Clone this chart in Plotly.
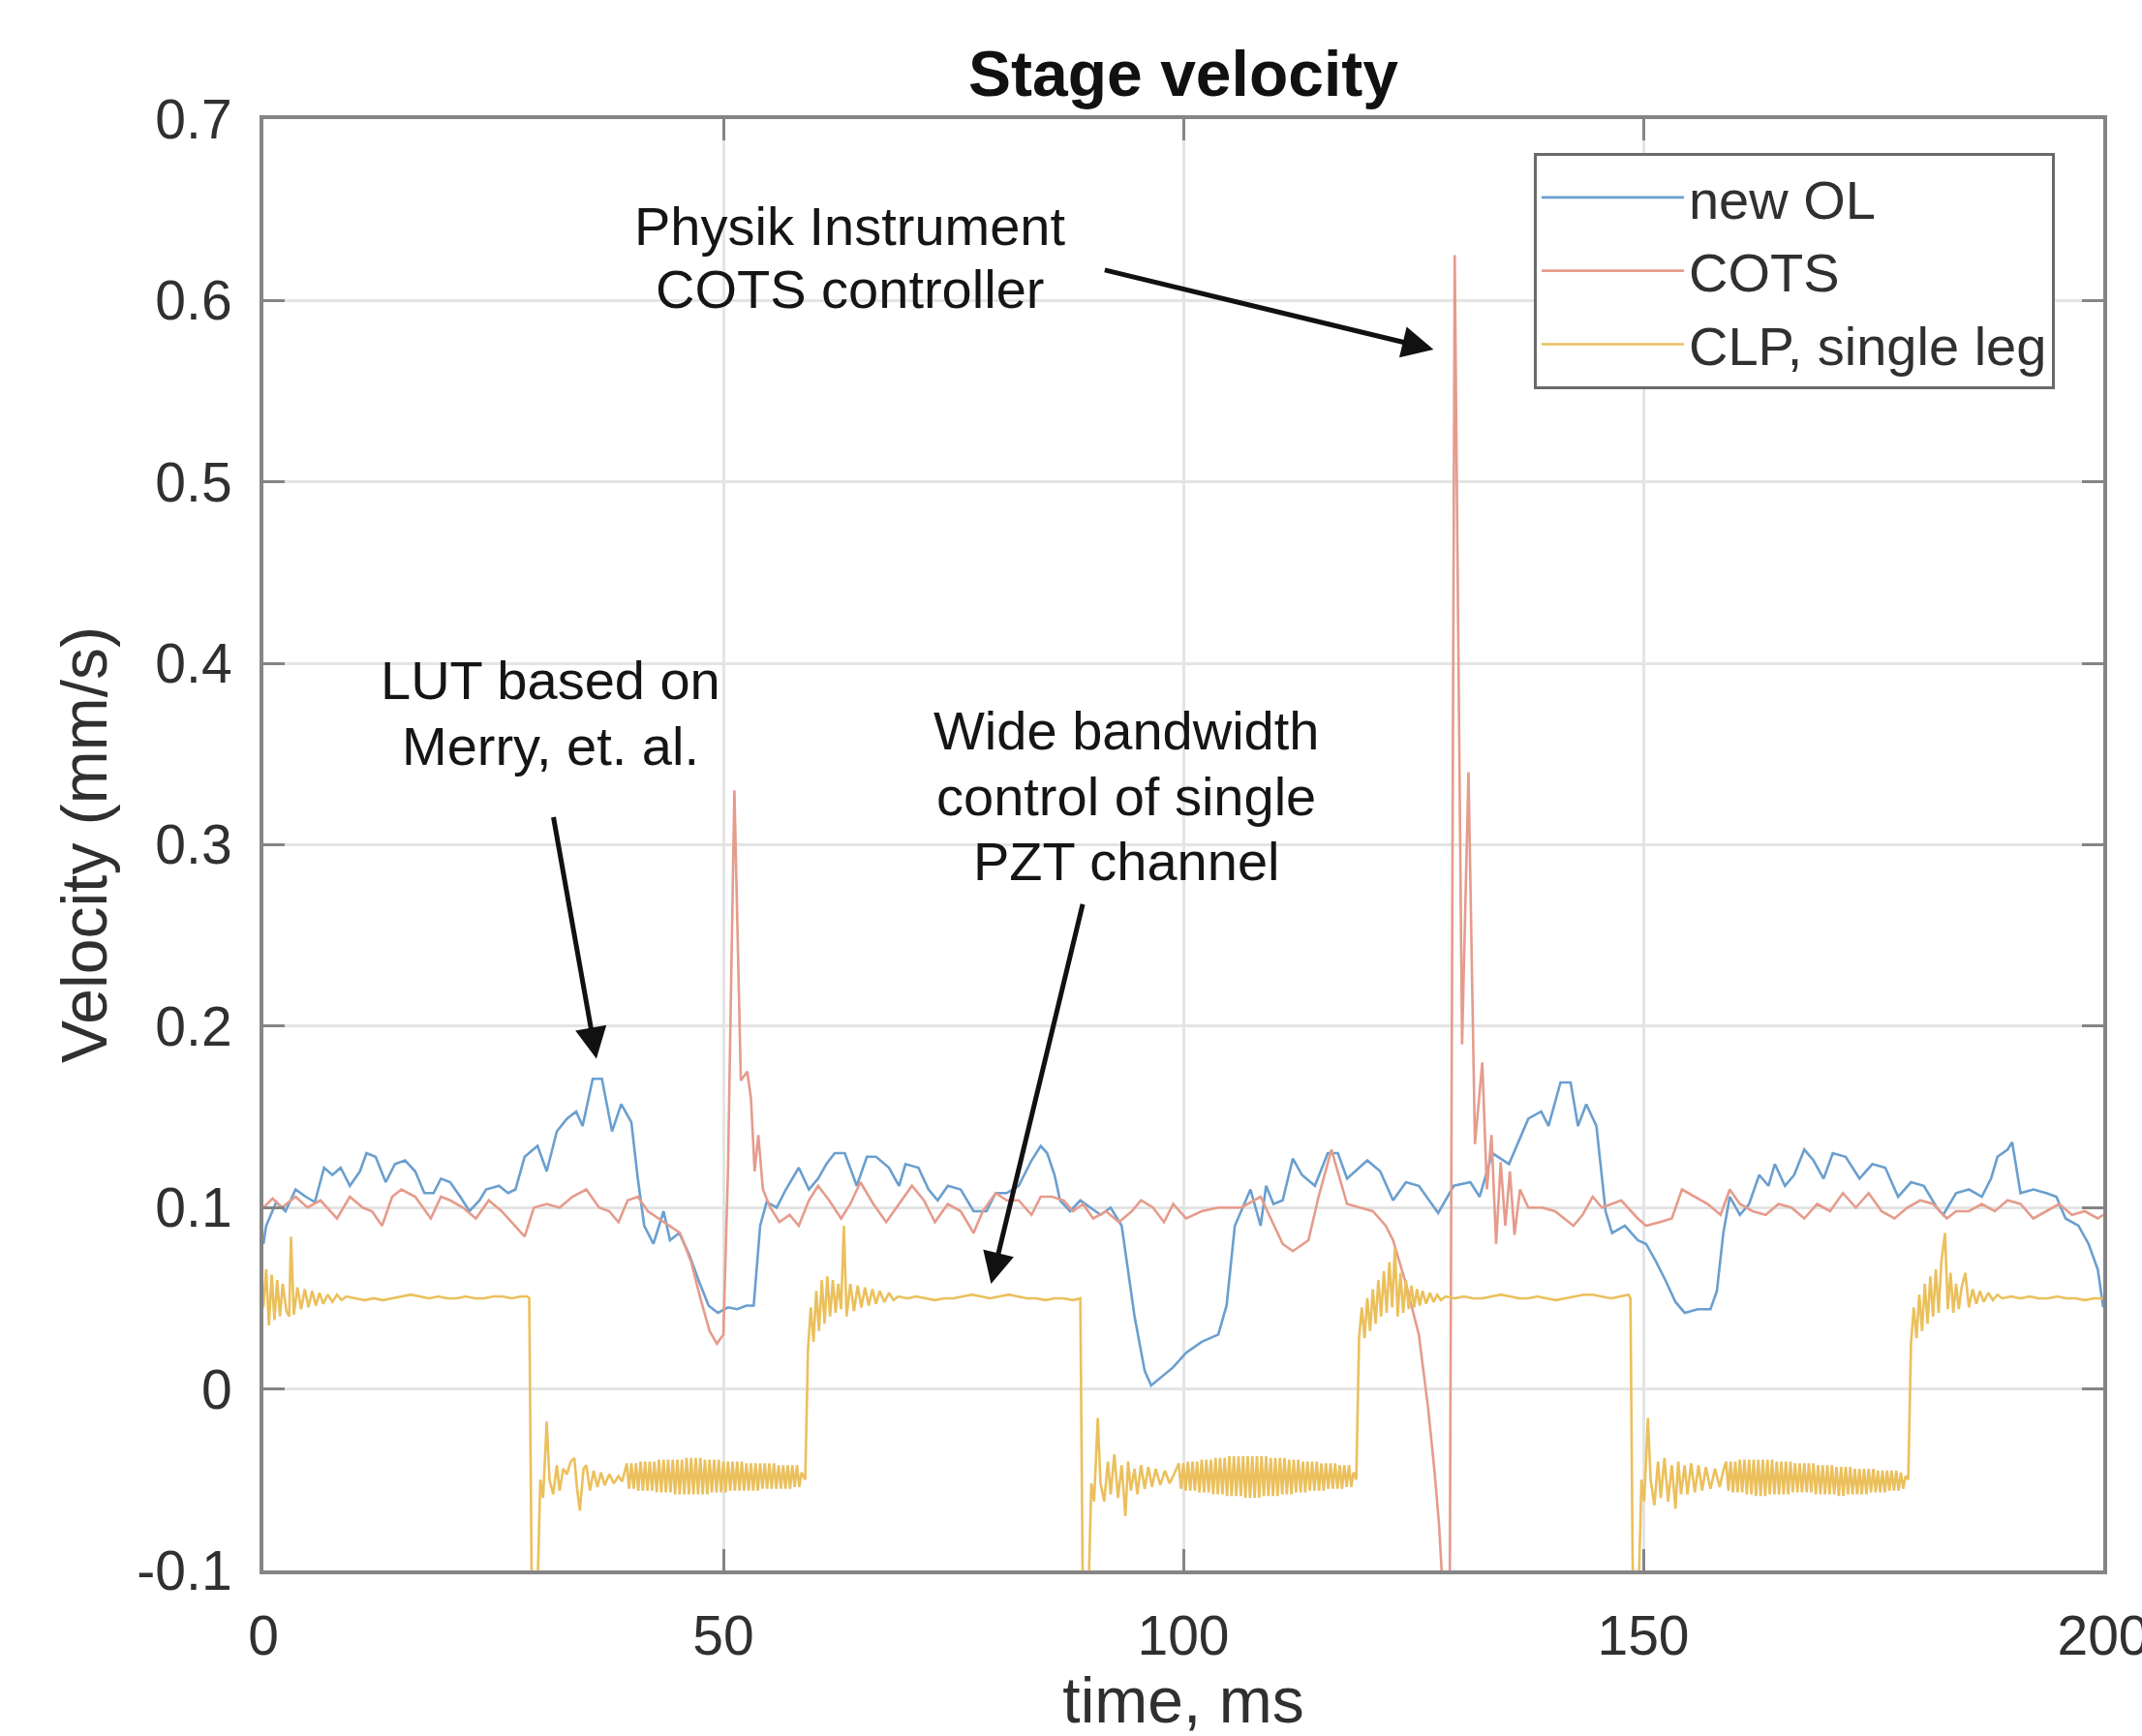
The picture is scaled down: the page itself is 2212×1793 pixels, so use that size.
import plotly.graph_objects as go

# ---------------- data ----------------
# new OL (blue)
OL_T = [0, 0.3, 1.4, 2.4, 3.5, 4.6, 5.6, 6.6, 7.5, 8.4,
        9.4, 10.5, 11.2, 12.2, 13.3, 14.3, 15.4, 16.5, 17.5, 18.5,
        19.3, 20.3, 21.4, 22.4, 23.5, 24.2, 25.6, 26.6, 27.4, 28.4,
        29.8, 30.8, 31.9, 33.0, 34.0, 34.7, 35.8, 36.8, 37.9, 38.9,
        40.0, 40.7, 41.4, 42.4, 43.5, 44.2, 45.2, 46.3, 47.3, 48.4,
        49.4, 50.5, 51.5, 52.5, 53.3, 54.0, 54.7, 55.8, 56.8, 58.2,
        59.3, 60.3, 61.2, 62.1, 63.2, 64.5, 65.6, 66.6, 68.0, 69.1,
        69.8, 71.2, 72.3, 73.3, 74.4, 75.8, 77.2, 78.6, 79.6, 80.8,
        82.1, 83.5, 84.5, 85.2, 86.0, 86.6, 87.7, 88.8, 89.9, 91.0,
        92.1, 93.3, 94.7, 95.8, 96.5, 97.5, 98.9, 100.3, 102.0, 103.8,
        104.7, 105.6, 106.3, 107.3, 108.4, 109.0, 109.8, 110.8, 111.9, 112.9,
        114.3, 115.7, 116.8, 117.8, 120.0, 121.4, 122.8, 124.2, 125.6, 127.7,
        129.4, 131.2, 132.2, 133.6, 135.4, 137.5, 138.9, 139.7, 141.0, 142.1,
        142.9, 143.8, 144.9, 145.9, 146.6, 148.0, 149.4, 150.3, 151.4, 152.4,
        153.5, 154.5, 155.9, 157.3, 158.0, 158.7, 159.4, 160.5, 161.5, 162.6,
        163.6, 164.3, 165.4, 166.4, 167.5, 168.5, 169.6, 170.6, 172.0, 173.5,
        174.9, 176.3, 177.7, 179.1, 180.5, 181.9, 182.6, 184.0, 185.4, 186.8,
        187.8, 188.5, 189.6, 190.1, 191.0, 192.4, 193.8, 194.9, 195.9, 197.3,
        198.4, 199.4, 200.0]
OL_V = [0.080, 0.090, 0.103, 0.098, 0.110, 0.106, 0.103, 0.122, 0.118, 0.122,
        0.112, 0.120, 0.130, 0.128, 0.114, 0.124, 0.126, 0.120, 0.108, 0.108,
        0.116, 0.114, 0.106, 0.098, 0.104, 0.110, 0.112, 0.108, 0.110, 0.128,
        0.134, 0.120, 0.142, 0.149, 0.153, 0.145, 0.171, 0.171, 0.142, 0.157,
        0.147, 0.116, 0.090, 0.080, 0.098, 0.082, 0.086, 0.074, 0.060, 0.046,
        0.042, 0.045, 0.044, 0.046, 0.046, 0.090, 0.103, 0.100, 0.110, 0.122,
        0.110, 0.116, 0.124, 0.130, 0.130, 0.112, 0.128, 0.128, 0.122, 0.112,
        0.124, 0.122, 0.110, 0.104, 0.112, 0.110, 0.098, 0.098, 0.108, 0.108,
        0.112, 0.126, 0.134, 0.130, 0.118, 0.104, 0.098, 0.104, 0.100, 0.096,
        0.100, 0.090, 0.040, 0.010, 0.002, 0.006, 0.012, 0.020, 0.026, 0.030,
        0.046, 0.090, 0.098, 0.110, 0.090, 0.112, 0.102, 0.104, 0.127, 0.118,
        0.112, 0.130, 0.130, 0.116, 0.126, 0.120, 0.104, 0.114, 0.112, 0.097,
        0.112, 0.114, 0.106, 0.130, 0.124, 0.149, 0.153, 0.145, 0.169, 0.169,
        0.145, 0.157, 0.145, 0.098, 0.086, 0.090, 0.082, 0.080, 0.070, 0.060,
        0.048, 0.042, 0.044, 0.044, 0.054, 0.086, 0.106, 0.096, 0.102, 0.118,
        0.112, 0.124, 0.112, 0.118, 0.132, 0.126, 0.116, 0.130, 0.128, 0.116,
        0.124, 0.122, 0.106, 0.114, 0.112, 0.100, 0.096, 0.108, 0.110, 0.106,
        0.116, 0.128, 0.132, 0.136, 0.108, 0.110, 0.108, 0.106, 0.094, 0.090,
        0.080, 0.066, 0.045]

# COTS (red)
COTS_T = [0.0, 1.0, 2.0, 3.5, 4.8, 6.2, 8.0, 9.4, 10.8, 11.8,
          12.9, 14.0, 15.0, 16.5, 18.2, 19.3, 20.3, 21.7, 23.1, 24.5,
          25.9, 27.3, 28.4, 29.4, 30.8, 32.2, 33.6, 35.1, 36.5, 37.6,
          38.6, 39.6, 40.7, 41.8, 43.0, 44.2, 45.3, 46.5, 47.5, 48.5,
          49.3, 50.0, 50.5, 51.2, 51.9, 52.6, 53.0, 53.4, 53.8, 54.3, 55.1,
          56.1, 57.2, 58.2, 59.3, 60.3, 61.5, 62.8, 63.8, 64.9, 66.3,
          67.7, 69.1, 70.5, 71.8, 73.0, 74.4, 75.8, 77.2, 78.2, 79.6,
          80.8, 82.1, 83.5, 84.5, 85.7, 87.0, 88.0, 89.1, 90.2, 91.6,
          93.0, 94.4, 95.4, 96.7, 97.9, 98.9, 100.3, 102.0, 103.8, 106.3,
          108.4, 110.8, 111.9, 113.6, 114.7, 116.1, 117.8, 119.2, 120.6, 122.0,
          122.8, 124.2, 125.6, 126.6, 127.3, 127.8, 128.3, 128.9, 129.5, 130.3, 131.0,
          131.7, 132.5, 133.0, 133.5, 134.0, 134.5, 135.0, 135.5, 136.0, 136.6,
          137.5, 139.0, 140.4, 142.4, 143.4, 144.5, 145.5, 147.6, 149.4, 150.3,
          151.8, 153.1, 154.2, 155.6, 157.0, 158.4, 159.4, 160.5, 161.9, 163.3,
          164.7, 166.1, 167.5, 168.9, 170.3, 171.7, 173.1, 174.5, 175.9, 177.3,
          178.7, 180.1, 181.5, 183.0, 184.0, 185.4, 186.8, 188.2, 189.6, 191.0,
          192.4, 193.8, 195.2, 196.6, 198.0, 199.4, 200.0]
COTS_V = [0.100, 0.105, 0.100, 0.106, 0.100, 0.104, 0.094, 0.106, 0.100, 0.098,
          0.090, 0.106, 0.110, 0.106, 0.094, 0.106, 0.104, 0.100, 0.094, 0.104,
          0.098, 0.090, 0.084, 0.100, 0.102, 0.100, 0.106, 0.110, 0.100, 0.098,
          0.092, 0.104, 0.106, 0.098, 0.094, 0.090, 0.086, 0.070, 0.050, 0.032,
          0.025, 0.030, 0.120, 0.330, 0.170, 0.175, 0.160, 0.120, 0.140, 0.110, 0.100,
          0.092, 0.096, 0.090, 0.104, 0.112, 0.104, 0.094, 0.102, 0.114, 0.102,
          0.092, 0.102, 0.112, 0.104, 0.092, 0.102, 0.098, 0.086, 0.098, 0.108,
          0.104, 0.104, 0.096, 0.106, 0.106, 0.104, 0.098, 0.102, 0.094, 0.098,
          0.092, 0.098, 0.104, 0.100, 0.092, 0.102, 0.094, 0.098, 0.100, 0.100,
          0.106, 0.080, 0.076, 0.082, 0.106, 0.132, 0.102, 0.100, 0.098, 0.090,
          0.082, 0.058, 0.030, -0.010, -0.045, -0.075, -0.120, -0.200, 0.625, 0.190, 0.340,
          0.135, 0.180, 0.110, 0.140, 0.080, 0.125, 0.090, 0.120, 0.085, 0.110,
          0.100, 0.100, 0.098, 0.090, 0.096, 0.106, 0.100, 0.104, 0.094, 0.090,
          0.092, 0.094, 0.110, 0.106, 0.102, 0.096, 0.110, 0.102, 0.098, 0.096,
          0.102, 0.100, 0.094, 0.102, 0.098, 0.108, 0.100, 0.108, 0.098, 0.094,
          0.100, 0.104, 0.102, 0.094, 0.098, 0.098, 0.102, 0.098, 0.104, 0.102,
          0.094, 0.098, 0.102, 0.096, 0.098, 0.094, 0.096]

# CLP, single leg (yellow) -- read segment by segment
CLP_T_A = [0.0, 0.3, 0.6, 0.9, 1.2, 1.5, 1.8, 2.1, 2.5, 2.8,
           3.0, 3.3, 3.7, 4.1, 4.5, 4.9, 5.3, 5.7, 6.1, 6.5,
           7.0, 7.5, 8.0, 8.5, 9.0, 10.0, 11.0, 12.0, 13.0, 14.0,
           15.0, 16.0, 17.0, 18.0, 19.0, 20.0, 21.0, 22.0, 23.0, 24.0,
           25.0, 26.0, 27.0, 28.0, 28.7]
CLP_V_A = [0.045, 0.066, 0.035, 0.063, 0.038, 0.060, 0.040, 0.058, 0.043, 0.040,
           0.084, 0.041, 0.056, 0.044, 0.055, 0.045, 0.054, 0.046, 0.053, 0.047,
           0.052, 0.048, 0.052, 0.049, 0.051, 0.050, 0.049, 0.050, 0.049, 0.050,
           0.051, 0.052, 0.051, 0.050, 0.051, 0.050, 0.050, 0.051, 0.050, 0.050,
           0.051, 0.051, 0.050, 0.051, 0.051]
CLP_T_B = [28.9, 29.2, 29.7, 30.1, 30.4, 30.8, 31.1, 31.5, 31.9, 32.2,
           32.6, 33.0, 33.4, 33.8, 34.1, 34.4, 34.8, 35.1, 35.5, 35.9,
           36.3, 36.7, 37.1, 37.6, 38.1, 38.6, 39.0]
CLP_V_B = [0.050, -0.130, -0.130, -0.050, -0.060, -0.018, -0.050, -0.058, -0.042, -0.056,
           -0.044, -0.047, -0.040, -0.038, -0.055, -0.067, -0.044, -0.042, -0.056, -0.045,
           -0.054, -0.046, -0.053, -0.047, -0.052, -0.048, -0.051]
CLP_T_C = [39.50, 39.75, 40.00, 40.25, 40.50, 40.75, 41.00, 41.25,
           41.50, 41.75, 42.00, 42.25, 42.50, 42.75, 43.00, 43.25,
           43.50, 43.75, 44.00, 44.25, 44.50, 44.75, 45.00, 45.25,
           45.50, 45.75, 46.00, 46.25, 46.50, 46.75, 47.00, 47.25,
           47.50, 47.75, 48.00, 48.25, 48.50, 48.75, 49.00, 49.25,
           49.50, 49.75, 50.00, 50.25, 50.50, 50.75, 51.00, 51.25,
           51.50, 51.75, 52.00, 52.25, 52.50, 52.75, 53.00, 53.25,
           53.50, 53.75, 54.00, 54.25, 54.50, 54.75, 55.00, 55.25,
           55.50, 55.75, 56.00, 56.25, 56.50, 56.75, 57.00, 57.25,
           57.50, 57.75, 58.00, 58.25, 58.50]
CLP_V_C = [-0.041, -0.055, -0.041, -0.055, -0.041, -0.056, -0.040, -0.056,
           -0.040, -0.056, -0.040, -0.056, -0.040, -0.057, -0.039, -0.057,
           -0.039, -0.057, -0.039, -0.057, -0.039, -0.058, -0.039, -0.058,
           -0.039, -0.058, -0.038, -0.058, -0.038, -0.058, -0.038, -0.058,
           -0.038, -0.058, -0.039, -0.058, -0.039, -0.057, -0.039, -0.057,
           -0.039, -0.057, -0.040, -0.057, -0.040, -0.056, -0.040, -0.056,
           -0.040, -0.056, -0.040, -0.056, -0.041, -0.056, -0.041, -0.056,
           -0.041, -0.056, -0.041, -0.055, -0.041, -0.055, -0.041, -0.055,
           -0.041, -0.055, -0.042, -0.055, -0.042, -0.055, -0.042, -0.055,
           -0.042, -0.054, -0.042, -0.054, -0.046]
CLP_T_D = [58.9, 59.2, 59.5, 59.8, 60.1, 60.4, 60.7, 61.0, 61.3, 61.6,
           61.9, 62.2, 62.5, 62.8, 63.1, 63.4, 63.8, 64.2, 64.6, 65.0,
           65.4, 65.8, 66.2, 66.6, 67.0, 67.5, 68.0, 68.5, 69.0]
CLP_V_D = [-0.050, 0.022, 0.045, 0.026, 0.054, 0.032, 0.060, 0.036, 0.062, 0.040,
           0.060, 0.042, 0.058, 0.044, 0.090, 0.040, 0.058, 0.043, 0.057, 0.045,
           0.056, 0.046, 0.055, 0.047, 0.054, 0.048, 0.053, 0.049, 0.051]
CLP_T_E = [70, 71, 72, 73, 74, 75, 76, 77, 78, 79,
           80, 81, 82, 83, 84, 85, 86, 87, 88, 88.6]
CLP_V_E = [0.050, 0.051, 0.050, 0.049, 0.050, 0.050, 0.051, 0.052, 0.051, 0.050,
           0.051, 0.052, 0.051, 0.050, 0.050, 0.049, 0.050, 0.050, 0.049, 0.050]
CLP_T_F = [88.8, 89.1, 89.6, 90.0, 90.3, 90.7, 91.0, 91.4, 91.8, 92.1,
           92.5, 92.9, 93.3, 93.7, 94.0, 94.3, 94.7, 95.0, 95.4, 95.8,
           96.2, 96.6, 97.0, 97.5, 98.0, 98.5, 98.9]
CLP_V_F = [0.050, -0.130, -0.130, -0.052, -0.062, -0.016, -0.052, -0.062, -0.040, -0.058,
           -0.036, -0.060, -0.042, -0.070, -0.040, -0.056, -0.044, -0.058, -0.042, -0.055,
           -0.043, -0.054, -0.044, -0.053, -0.045, -0.052, -0.048]
CLP_T_G = [99.50, 99.75, 100.00, 100.25, 100.50, 100.75, 101.00, 101.25,
           101.50, 101.75, 102.00, 102.25, 102.50, 102.75, 103.00, 103.25,
           103.50, 103.75, 104.00, 104.25, 104.50, 104.75, 105.00, 105.25,
           105.50, 105.75, 106.00, 106.25, 106.50, 106.75, 107.00, 107.25,
           107.50, 107.75, 108.00, 108.25, 108.50, 108.75, 109.00, 109.25,
           109.50, 109.75, 110.00, 110.25, 110.50, 110.75, 111.00, 111.25,
           111.50, 111.75, 112.00, 112.25, 112.50, 112.75, 113.00, 113.25,
           113.50, 113.75, 114.00, 114.25, 114.50, 114.75, 115.00, 115.25,
           115.50, 115.75, 116.00, 116.25, 116.50, 116.75, 117.00, 117.25,
           117.50, 117.75, 118.00, 118.25, 118.50]
CLP_V_G = [-0.041, -0.055, -0.041, -0.056, -0.040, -0.056, -0.040, -0.056,
           -0.040, -0.057, -0.039, -0.057, -0.039, -0.057, -0.039, -0.058,
           -0.038, -0.058, -0.038, -0.058, -0.038, -0.059, -0.037, -0.059,
           -0.037, -0.059, -0.037, -0.059, -0.037, -0.060, -0.037, -0.060,
           -0.037, -0.060, -0.037, -0.060, -0.037, -0.059, -0.037, -0.059,
           -0.038, -0.059, -0.038, -0.059, -0.038, -0.058, -0.038, -0.058,
           -0.039, -0.058, -0.039, -0.057, -0.039, -0.057, -0.040, -0.057,
           -0.040, -0.056, -0.040, -0.056, -0.040, -0.056, -0.041, -0.056,
           -0.041, -0.055, -0.041, -0.055, -0.041, -0.055, -0.042, -0.055,
           -0.042, -0.054, -0.042, -0.054, -0.046]
CLP_T_H = [118.8, 119.1, 119.4, 119.7, 120.0, 120.3, 120.6, 120.9, 121.2, 121.5,
           121.8, 122.1, 122.4, 122.7, 123.0, 123.3, 123.6, 123.9, 124.2, 124.5,
           124.8, 125.1, 125.4, 125.7, 126.0, 126.4, 126.8, 127.2, 127.6, 128.0,
           128.5]
CLP_V_H = [-0.050, 0.028, 0.045, 0.028, 0.050, 0.032, 0.055, 0.036, 0.060, 0.040,
           0.065, 0.042, 0.070, 0.045, 0.078, 0.040, 0.064, 0.042, 0.060, 0.044,
           0.057, 0.045, 0.055, 0.046, 0.054, 0.047, 0.053, 0.048, 0.052, 0.049,
           0.051]
CLP_T_I = [129.5, 130.5, 131.5, 132.5, 133.5, 134.5, 135.5, 136.5, 137.5, 138.5,
           139.5, 140.5, 141.5, 142.5, 143.5, 144.5, 145.5, 146.5, 147.5, 148.4]
CLP_V_I = [0.050, 0.051, 0.050, 0.050, 0.051, 0.052, 0.051, 0.050, 0.050, 0.051,
           0.050, 0.049, 0.050, 0.051, 0.052, 0.052, 0.051, 0.050, 0.051, 0.052]
CLP_T_J = [148.6, 148.9, 149.4, 149.8, 150.1, 150.5, 150.8, 151.2, 151.6, 151.9,
           152.3, 152.7, 153.1, 153.5, 153.8, 154.1, 154.5, 154.8, 155.2, 155.6,
           156.0, 156.4, 156.8, 157.3, 157.8, 158.3, 158.7]
CLP_V_J = [0.050, -0.130, -0.130, -0.050, -0.062, -0.016, -0.050, -0.064, -0.040, -0.060,
           -0.038, -0.062, -0.042, -0.066, -0.040, -0.058, -0.042, -0.058, -0.041, -0.057,
           -0.042, -0.056, -0.043, -0.055, -0.044, -0.054, -0.045]
CLP_T_K = [159.00, 159.25, 159.50, 159.75, 160.00, 160.25, 160.50, 160.75,
           161.00, 161.25, 161.50, 161.75, 162.00, 162.25, 162.50, 162.75,
           163.00, 163.25, 163.50, 163.75, 164.00, 164.25, 164.50, 164.75,
           165.00, 165.25, 165.50, 165.75, 166.00, 166.25, 166.50, 166.75,
           167.00, 167.25, 167.50, 167.75, 168.00, 168.25, 168.50, 168.75,
           169.00, 169.25, 169.50, 169.75, 170.00, 170.25, 170.50, 170.75,
           171.00, 171.25, 171.50, 171.75, 172.00, 172.25, 172.50, 172.75,
           173.00, 173.25, 173.50, 173.75, 174.00, 174.25, 174.50, 174.75,
           175.00, 175.25, 175.50, 175.75, 176.00, 176.25, 176.50, 176.75,
           177.00, 177.25, 177.50, 177.75, 178.00, 178.25, 178.50]
CLP_V_K = [-0.040, -0.056, -0.040, -0.057, -0.040, -0.057, -0.039, -0.057,
           -0.039, -0.058, -0.039, -0.058, -0.039, -0.059, -0.039, -0.059,
           -0.039, -0.059, -0.039, -0.058, -0.039, -0.058, -0.040, -0.058,
           -0.040, -0.058, -0.040, -0.058, -0.040, -0.057, -0.041, -0.057,
           -0.041, -0.057, -0.041, -0.057, -0.041, -0.057, -0.041, -0.058,
           -0.042, -0.058, -0.042, -0.058, -0.042, -0.058, -0.042, -0.058,
           -0.043, -0.059, -0.043, -0.059, -0.043, -0.058, -0.043, -0.058,
           -0.044, -0.058, -0.044, -0.058, -0.044, -0.058, -0.044, -0.057,
           -0.044, -0.057, -0.045, -0.057, -0.045, -0.057, -0.045, -0.056,
           -0.045, -0.056, -0.045, -0.056, -0.046, -0.055, -0.048]
CLP_T_L = [178.8, 179.1, 179.4, 179.7, 180.0, 180.3, 180.6, 180.9, 181.2, 181.5,
           181.8, 182.1, 182.4, 182.8, 183.1, 183.4, 183.7, 184.0, 184.3, 184.6,
           185.0, 185.4, 185.8, 186.2, 186.6, 187.0, 187.5, 188.0, 188.5, 189.0]
CLP_V_L = [-0.050, 0.025, 0.045, 0.028, 0.052, 0.032, 0.058, 0.036, 0.062, 0.040,
           0.066, 0.042, 0.070, 0.086, 0.044, 0.064, 0.042, 0.058, 0.044, 0.056,
           0.064, 0.045, 0.055, 0.047, 0.054, 0.048, 0.053, 0.049, 0.052, 0.050]
CLP_T_M = [190, 191, 192, 193, 194, 195, 196, 197, 198, 199, 200]
CLP_V_M = [0.051, 0.050, 0.051, 0.050, 0.050, 0.051, 0.050, 0.050, 0.049, 0.050, 0.050]

X_TICKS = [0, 50, 100, 150, 200]
X_TICK_TEXT = ["0", "50", "100", "150", "200"]
Y_TICKS = [0.7, 0.6, 0.5, 0.4, 0.3, 0.2, 0.1, 0.0, -0.1]
Y_TICK_TEXT = ["0.7", "0.6", "0.5", "0.4", "0.3", "0.2", "0.1", "0", "-0.1"]

SERIES_NAMES = ["new OL", "COTS", "CLP, single leg"]

# annotation text lines (one entry per printed line) and arrows
NOTE_LINES = [  # (text, center time, center velocity)
    ("Physik Instrument", 63.7, 0.641),
    ("COTS controller", 63.7, 0.6065),
    ("LUT based on", 31.2, 0.3907),
    ("Merry, et. al.", 31.2, 0.3546),
    ("Wide bandwidth", 93.8, 0.3629),
    ("control of single", 93.8, 0.3268),
    ("PZT channel", 93.8, 0.2907),
]
ARROWS = [  # (tip_t, tip_v, tail_t, tail_v)
    (127.2, 0.573, 91.3, 0.617),
    (36.2, 0.182, 31.5, 0.316),
    (79.1, 0.058, 89.1, 0.268),
]

# ---------------- assemble ----------------
CLP_T = (CLP_T_A + CLP_T_B + CLP_T_C + CLP_T_D + CLP_T_E + CLP_T_F + CLP_T_G
         + CLP_T_H + CLP_T_I + CLP_T_J + CLP_T_K + CLP_T_L + CLP_T_M)
CLP_V = (CLP_V_A + CLP_V_B + CLP_V_C + CLP_V_D + CLP_V_E + CLP_V_F + CLP_V_G
         + CLP_V_H + CLP_V_I + CLP_V_J + CLP_V_K + CLP_V_L + CLP_V_M)
assert len(OL_T) == len(OL_V), (len(OL_T), len(OL_V))
assert len(COTS_T) == len(COTS_V), (len(COTS_T), len(COTS_V))
assert len(CLP_T) == len(CLP_V), (len(CLP_T), len(CLP_V))

FONT = "Liberation Sans, Arial, Helvetica, sans-serif"
AX_COLOR = "#858585"
GRID_COLOR = "#e4e4e4"
TXT = "#303030"

fig = go.Figure()
fig.add_trace(go.Scatter(x=OL_T, y=OL_V, mode="lines", name=SERIES_NAMES[0],
                         line=dict(color="#6a9fcf", width=2.6)))
fig.add_trace(go.Scatter(x=COTS_T, y=COTS_V, mode="lines", name=SERIES_NAMES[1],
                         line=dict(color="#e59c8c", width=2.6)))
fig.add_trace(go.Scatter(x=CLP_T, y=CLP_V, mode="lines", name=SERIES_NAMES[2],
                         line=dict(color="#ebc05c", width=2.6)))

axis_common = dict(
    showline=True, linecolor=AX_COLOR, linewidth=4, mirror="ticks",
    ticks="inside", ticklen=22, tickwidth=3, tickcolor=AX_COLOR,
    showgrid=True, gridcolor=GRID_COLOR, gridwidth=3, zeroline=False,
    automargin=False,
    tickfont=dict(family=FONT, size=57, color=TXT),
)

fig.update_xaxes(range=[0, 200], tickvals=X_TICKS, ticktext=X_TICK_TEXT,
                 ticklabelstandoff=15, ticklabeloverflow="allow",
                 title=dict(text="time, ms", font=dict(family=FONT, size=66, color=TXT),
                            standoff=30),
                 **axis_common)
fig.update_yaxes(range=[-0.1, 0.7], tickvals=Y_TICKS, ticktext=Y_TICK_TEXT,
                 ticklabelstandoff=17,
                 title=dict(text="Velocity (mm/s)", font=dict(family=FONT, size=66, color=TXT),
                            standoff=10),
                 **axis_common)

ANN_FONT = dict(family=FONT, size=56, color="#151515")
annotations = []
for txt, tx, tv in NOTE_LINES:
    annotations.append(dict(x=tx, y=tv, xref="x", yref="y", text=txt,
                            showarrow=False, font=ANN_FONT, align="center",
                            xanchor="center", yanchor="middle"))
for tx, tv, sx, sv in ARROWS:
    annotations.append(dict(x=tx, y=tv, xref="x", yref="y", ax=sx, ay=sv,
                            axref="x", ayref="y", text="", showarrow=True,
                            arrowhead=2, arrowsize=1.3, arrowwidth=5,
                            arrowcolor="#111111", standoff=0, startstandoff=0))

fig.update_layout(
    width=2212, height=1793,
    margin=dict(l=272, r=40, t=123, b=171, autoexpand=False),
    paper_bgcolor="white", plot_bgcolor="white",
    font=dict(family=FONT, color=TXT),
    title=dict(text="<b>Stage velocity</b>", x=1222 / 2212, xanchor="center",
               y=1 - 76 / 1793, yanchor="middle",
               font=dict(family=FONT, size=66, color="#111111")),
    legend=dict(x=0.6905, y=0.9767, xanchor="left", yanchor="top",
                bgcolor="white", bordercolor="#6a6a6a", borderwidth=3,
                font=dict(family=FONT, size=56, color=TXT),
                itemwidth=147, tracegroupgap=0),
    annotations=annotations,
    showlegend=True,
)

# remove the default page margin so the figure sits at the window origin
PAGE_FIX = ("document.body.style.margin='0';"
            "document.body.style.overflow='hidden';"
            "document.documentElement.style.overflow='hidden';"
            "var gd=document.getElementById('{plot_id}');"
            "if(gd){gd.style.overflow='hidden';}")

fig.write_html("out.html", post_script=PAGE_FIX,
               config={"displayModeBar": False})
